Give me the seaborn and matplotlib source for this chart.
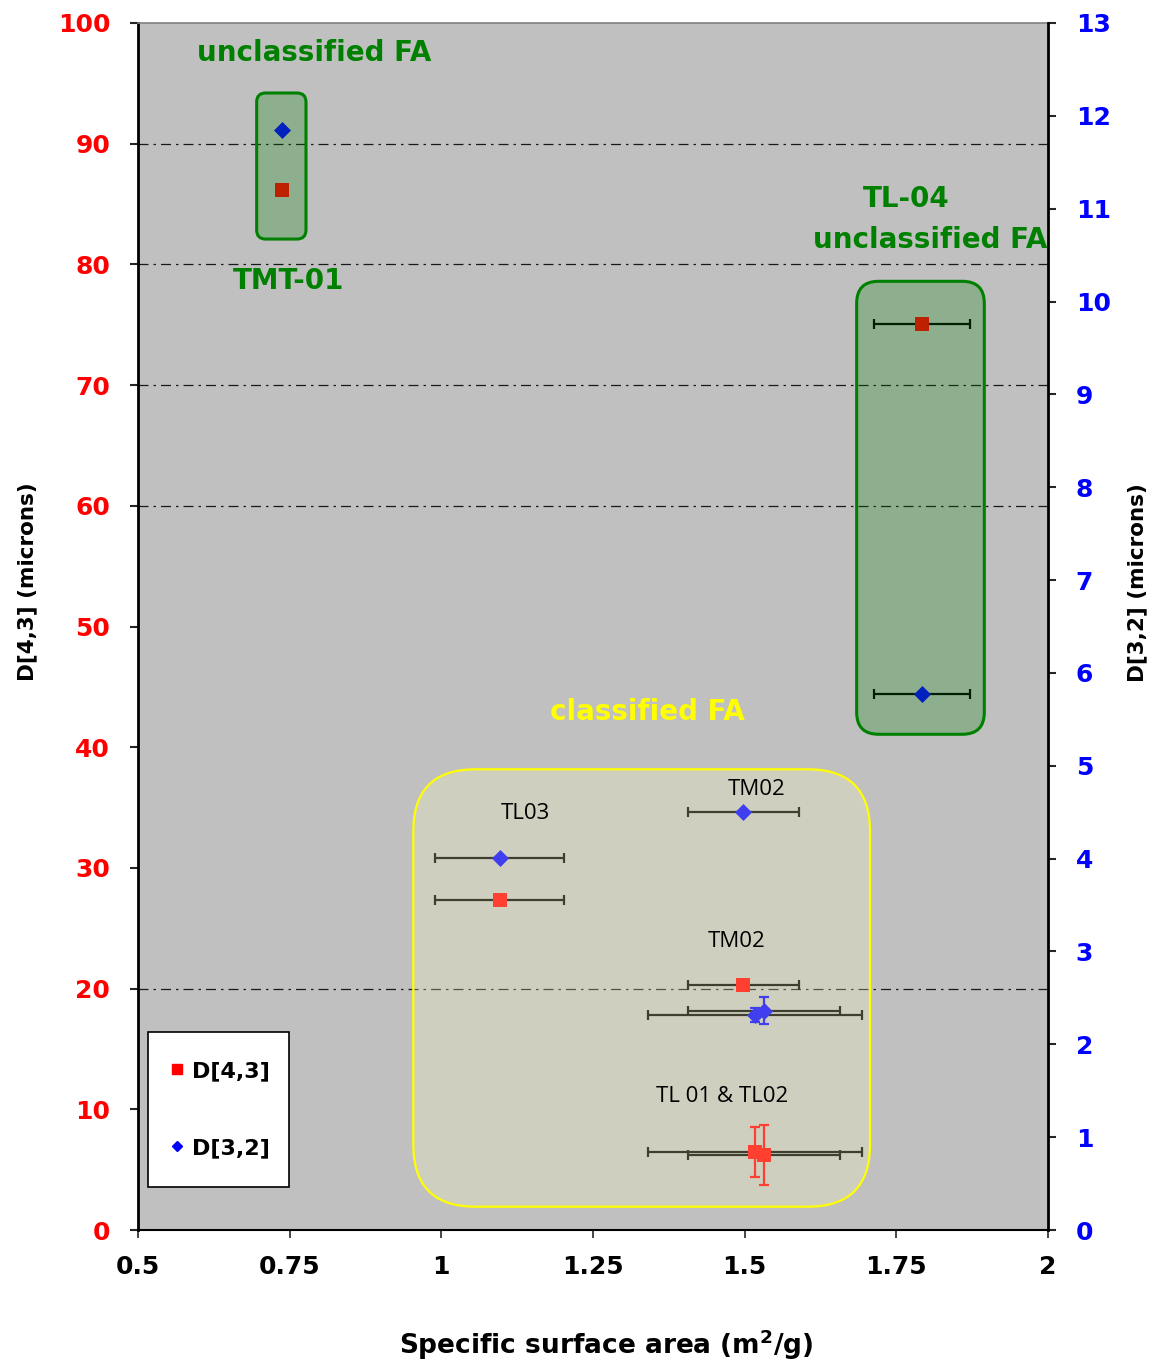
import matplotlib
matplotlib.use("Agg")
import numpy as np
import pandas as pd
import seaborn as sns
import matplotlib.pyplot as plt
from matplotlib.patches import FancyBboxPatch, Rectangle
from matplotlib.lines import Line2D

# ---- measurements -------------------------------------------------------
samples = ["TMT-01", "TL-04", "TL03", "TM02", "TL01", "TL02"]
ssa = [0.737, 1.792, 1.096, 1.498, 1.517, 1.532]        # specific surface area, m2/g
ssa_err = [0.0, 0.079, 0.106, 0.091, 0.176, 0.125]
d43 = [86.2, 75.1, 27.3, 20.3, 6.45, 6.2]               # D[4,3], microns
d43_err = [0.0, 0.0, 0.0, 0.0, 2.07, 2.49]
d32 = [11.85, 5.77, 4.01, 4.50, 2.32, 2.36]             # D[3,2], microns
d32_err = [0.0, 0.0, 0.0, 0.0, 0.075, 0.145]

x_ticks = [0.5, 0.75, 1, 1.25, 1.5, 1.75, 2]
x_tick_labels = ["0.5", "0.75", "1", "1.25", "1.5", "1.75", "2"]
left_ticks = list(range(0, 101, 10))
right_ticks = list(range(0, 14))
grid_levels = [90, 80, 70, 60, 20]

df = pd.DataFrame({"sample": samples, "ssa": ssa, "ssa_err": ssa_err,
                   "d43": d43, "d43_err": d43_err,
                   "d32": d32, "d32_err": d32_err})

# ---- figure -------------------------------------------------------------
sns.set_style("white")
plt.rcParams["font.family"] = ["DejaVu Sans"]
plt.rcParams["text.color"] = "black"
plt.rcParams["axes.labelcolor"] = "black"

W, H, DPI = 11.56, 13.6, 100
fig = plt.figure(figsize=(W, H), dpi=DPI)
ax_l, ax_r, ax_b, ax_t = 138, 1048, 1230, 23
ax = fig.add_axes([ax_l / 1156, 1 - ax_b / 1360,
                   (ax_r - ax_l) / 1156, (ax_b - ax_t) / 1360])
ax.set_facecolor("#c0c0c0")
ax2 = ax.twinx()

XMIN, XMAX, YMAX, Y2MAX = 0.5, 2.0, 100, 13
ax.set_xlim(XMIN, XMAX)
ax.set_ylim(0, YMAX)
ax2.set_ylim(0, Y2MAX)

px_x = (ax_r - ax_l) / (XMAX - XMIN)
px_y = (ax_b - ax_t) / YMAX


def axfrac(px, py):
    """Pixel position in the figure -> axes fraction."""
    return (px - ax_l) / (ax_r - ax_l), (ax_b - py) / (ax_b - ax_t)


# dash-dot reference lines
for lv in grid_levels:
    ax.axhline(lv, color="#1a1a1a", lw=0.9, ls=(0, (8, 4, 2, 4)), zorder=1)

# error bars for D[4,3]
hx = df[df.ssa_err > 0]
ax.errorbar(hx.ssa, hx.d43, xerr=hx.ssa_err, fmt="none", ecolor="black",
            elinewidth=1.6, capsize=3.8, capthick=1.6, zorder=2)
vy = df[df.d43_err > 0]
ax.errorbar(vy.ssa, vy.d43, yerr=vy.d43_err, fmt="none", ecolor="red",
            elinewidth=1.6, capsize=3.8, capthick=1.6, zorder=2.5)
sns.scatterplot(data=df, x="ssa", y="d43", ax=ax, marker="s", color="red",
                s=110, linewidth=0, zorder=3, legend=False)

# error bars for D[3,2]
ax2.errorbar(hx.ssa, hx.d32, xerr=hx.ssa_err, fmt="none", ecolor="black",
             elinewidth=1.6, capsize=3.8, capthick=1.6, zorder=2)
vb = df[df.d32_err > 0]
ax2.errorbar(vb.ssa, vb.d32, yerr=vb.d32_err, fmt="none", ecolor="blue",
             elinewidth=1.6, capsize=3.8, capthick=1.6, zorder=2.5)
sns.scatterplot(data=df, x="ssa", y="d32", ax=ax2, marker="D", color="blue",
                s=75, linewidth=0, zorder=3, legend=False)

# translucent group outlines
aspect = px_x / px_y
groups = [
    # (x0, x1, y0, y1, radius_px, edge, face, alpha_face, lw)
    (0.6956, 0.7769, 82.1, 94.2, 9, "#008000", "#008000", 0.26, 2.2),
    (1.6846, 1.8950, 41.07, 78.6, 22, "#008000", "#008000", 0.26, 2.2),
    (0.9538, 1.7066, 1.93, 38.17, 62, "#ffff00", "#ffffc0", 0.25, 1.6),
]
for x0, x1, y0, y1, r, ec, fc, a, lw in groups:
    face = FancyBboxPatch((x0, y0), x1 - x0, y1 - y0,
                          boxstyle=f"round,pad=0,rounding_size={r / px_x}",
                          mutation_aspect=aspect, transform=ax.transData,
                          facecolor=fc, alpha=a, edgecolor="none", zorder=5)
    edge = FancyBboxPatch((x0, y0), x1 - x0, y1 - y0,
                          boxstyle=f"round,pad=0,rounding_size={r / px_x}",
                          mutation_aspect=aspect, transform=ax.transData,
                          facecolor="none", edgecolor=ec, lw=lw, zorder=5.5)
    ax2.add_patch(face)
    ax2.add_patch(edge)

# annotations
green = "#008000"
bold = dict(fontweight="bold", ha="center", va="center", zorder=7,
            transform=ax.transData)
ax2.text(0.790, 97.5, "unclassified FA", color=green, fontsize=20, **bold)
ax2.text(0.749, 78.6, "TMT-01", color=green, fontsize=20, **bold)
ax2.text(1.766, 85.4, "TL-04", color=green, fontsize=20, **bold)
ax2.text(1.805, 82.0, "unclassified FA", color=green, fontsize=20, **bold)
ax2.text(1.339, 42.9, "classified FA", color="#ffff00", fontsize=20, **bold)

plain = dict(ha="center", va="center", zorder=7, color="black",
             fontsize=16, family=["Open Sans", "DejaVu Sans"],
             transform=ax.transData)
ax2.text(1.138, 34.5, "TL03", **plain)
ax2.text(1.519, 36.5, "TM02", **plain)
ax2.text(1.487, 23.9, "TM02", **plain)
ax2.text(1.463, 11.1, "TL 01 & TL02", **plain)

# axes styling
ax.set_xticks(x_ticks)
ax.set_xticklabels(x_tick_labels)
ax.set_yticks(left_ticks)
ax2.set_yticks(right_ticks)
ax.tick_params(axis="x", direction="out", length=6, width=1.2, pad=12,
               labelsize=18, labelcolor="black", bottom=True)
ax.tick_params(axis="y", direction="out", length=6, width=1.5, pad=14,
               labelsize=18, labelcolor="red", left=True)
ax2.tick_params(axis="y", direction="out", length=6, width=1.5, pad=14,
                labelsize=18, labelcolor="blue", right=True)
for lab in ax.get_xticklabels() + ax.get_yticklabels() + ax2.get_yticklabels():
    lab.set_fontweight("bold")

for a_ in (ax, ax2):
    for s in a_.spines.values():
        s.set_visible(False)
ax.spines["left"].set_visible(True)
ax.spines["left"].set_linewidth(2.0)
ax.spines["left"].set_color("black")
ax.spines["bottom"].set_visible(True)
ax.spines["bottom"].set_linewidth(1.5)
ax.spines["bottom"].set_color("black")
ax.spines["top"].set_visible(True)
ax.spines["top"].set_linewidth(1.2)
ax.spines["top"].set_color("#808080")
ax2.spines["right"].set_visible(True)
ax2.spines["right"].set_linewidth(2.0)
ax2.spines["right"].set_color("black")

ax.set_xlabel("Specific surface area (m$^{\\mathbf{2}}$/g)", fontsize=19,
              fontweight="bold", va="center", color="black")
ax.xaxis.set_label_coords(0.515, -(1345 - ax_b) / (ax_b - ax_t))
ax.set_ylabel("D[4,3] (microns)", fontsize=15.5, fontweight="bold",
              va="center", ha="center", color="black")
ax.yaxis.set_label_coords(*axfrac(27, 582))
ax2.set_ylabel("D[3,2] (microns)", fontsize=15.5, fontweight="bold",
               va="center", ha="center", rotation=90, color="black")
ax2.yaxis.set_label_coords(*axfrac(1137, 583))

# legend: white framed box with the two series keys
lx0, ly0 = axfrac(148, 1187)
lx1, ly1 = axfrac(289, 1032)
ax2.add_patch(Rectangle((lx0, ly0), lx1 - lx0, ly1 - ly0, transform=ax2.transAxes,
                        facecolor="white", edgecolor="black", lw=1.2, zorder=9))
handles = [Line2D([], [], marker="s", color="red", ls="", markersize=7.5),
           Line2D([], [], marker="D", color="blue", ls="", markersize=5.5)]
leg = ax2.legend(handles, ["D[4,3]", "D[3,2]"], loc="center",
                 bbox_to_anchor=((lx0 + lx1) / 2 + 0.002, (ly0 + ly1) / 2),
                 frameon=False, prop=dict(weight="bold", size=16),
                 labelspacing=2.57, borderpad=0.0, handlelength=0.6,
                 handletextpad=0.35, borderaxespad=0)
for t in leg.get_texts():
    t.set_color("black")
leg.set_zorder(10)

fig.savefig("out.png", dpi=DPI)
